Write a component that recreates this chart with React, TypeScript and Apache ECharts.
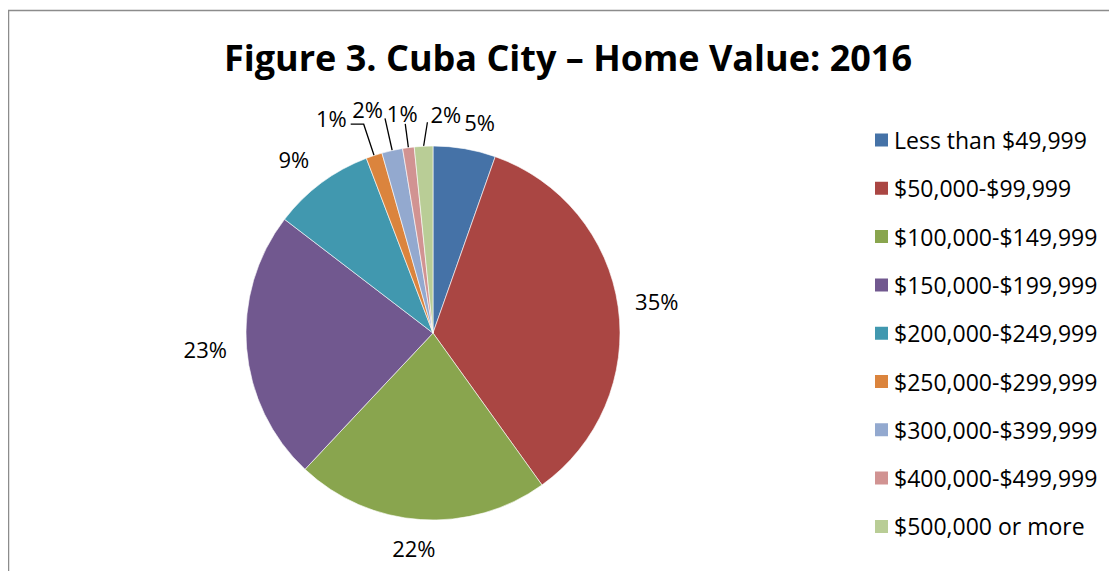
import React, { useEffect, useRef } from "react";
import * as echarts from "echarts";

const categories = [
  "Less than $49,999",
  "$50,000-$99,999",
  "$100,000-$149,999",
  "$150,000-$199,999",
  "$200,000-$249,999",
  "$250,000-$299,999",
  "$300,000-$399,999",
  "$400,000-$499,999",
  "$500,000 or more",
];
const shares = [5.4, 34.7, 21.9, 23.4, 8.8, 1.4, 1.8, 1.0, 1.6];
const colors = [
  "#4572A7",
  "#AA4643",
  "#89A54E",
  "#71588F",
  "#4198AF",
  "#DB843D",
  "#93A9CF",
  "#D19392",
  "#B9CD96",
];
const titleText = "Figure 3. Cuba City \u2013 Home Value: 2016";

// layout (styles, not data)
const FONT = "Open Sans";
const CX = 425;
const CY = 325;
const R = 187;
const GAP = 16;
// small nudges for the outside-end labels of the large slices
const bigLabelNudge: Record<number, number[]> = {
  0: [10, 2],
  2: [-5, 0],
  3: [-3, -2],
  4: [-7, 3],
};
// small-slice leader lines: radial length, extra x-shift of line end, elbow, label anchor
const smallLabelStyle: Record<number, any> = {
  5: { len: 33, shift: 0, elbow: -13, align: "right", vAlign: "middle", ldx: -4, ldy: -6 },
  6: { len: 33, shift: 0, elbow: 0, align: "right", vAlign: "bottom", ldx: -2, ldy: 2 },
  7: { len: 24, shift: 0, elbow: 0, align: "center", vAlign: "bottom", ldx: -3, ldy: 0 },
  8: { len: 24, shift: 5, elbow: 0, align: "left", vAlign: "bottom", ldx: 3, ldy: 3 },
};

export default function App() {
  const ref = useRef<HTMLDivElement>(null);
  useEffect(() => {
    if (!ref.current) return;
    const chart = echarts.init(ref.current, undefined, { renderer: "svg" });
    const total = shares.reduce((a, b) => a + b, 0);
    let acc = 0;
    const mids = shares.map((v) => {
      const m = ((acc + v / 2) / total) * Math.PI * 2;
      acc += v;
      return m;
    });
    const data = categories.map((name, i) => {
      const small = !!smallLabelStyle[i];
      return {
        name,
        value: shares[i],
        itemStyle: { color: colors[i] },
        labelLine: small
          ? { show: true, lineStyle: { color: "#000", width: 1.3 } }
          : { show: false },
      };
    });
    chart.setOption({
      animation: false,
      title: {
        text: titleText,
        left: 560,
        top: 31,
        padding: 0,
        textAlign: "center",
        textStyle: { fontFamily: FONT, fontWeight: "bold", fontSize: 36, color: "#000" },
      },
      legend: {
        orient: "vertical",
        left: 865,
        top: 120.5,
        padding: 0,
        itemWidth: 15,
        itemHeight: 15,
        itemGap: 25.3,
        icon: "rect",
        textStyle: { fontFamily: FONT, fontSize: 23, lineHeight: 23, color: "#000" },
        data: categories,
      },
      graphic: [
        {
          type: "rect",
          shape: { x: 0.5, y: 2.5, width: 1300, height: 800 },
          style: { fill: "none", stroke: "#8c8c8c", lineWidth: 1.5 },
          silent: true,
        },
      ],
      series: [
        {
          type: "pie",
          center: [CX, CY],
          radius: R,
          startAngle: 90,
          clockwise: true,
          avoidLabelOverlap: false,
          data,
          itemStyle: { borderColor: "#fff", borderWidth: 0.6 },
          label: {
            show: true,
            position: "outside",
            fontFamily: FONT,
            fontSize: 22,
            color: "#000",
            formatter: (p: any) => Math.round(p.percent) + "%",
          },
          labelLine: { show: true, length: 10, length2: 5 },
          labelLayout: (params: any) => {
            const i = params.dataIndex;
            const m = mids[i];
            const dx = Math.sin(m);
            const dy = -Math.cos(m);
            const p0x = CX + R * dx;
            const p0y = CY + R * dy;
            const w = params.labelRect.width;
            const h = params.labelRect.height;
            const s = smallLabelStyle[i];
            if (!s) {
              const d = GAP + (Math.abs(dx) * w) / 2 + (Math.abs(dy) * h) / 2;
              const n = bigLabelNudge[i] || [0, 0];
              return {
                x: p0x + dx * d + n[0],
                y: p0y + dy * d + n[1],
                align: "center",
                verticalAlign: "middle",
              };
            }
            const p1x = p0x + dx * s.len + s.shift;
            const p1y = p0y + dy * s.len;
            const p2x = p1x + s.elbow;
            const p2y = p1y;
            return {
              x: p2x + s.ldx,
              y: p2y + s.ldy,
              align: s.align,
              verticalAlign: s.vAlign,
              labelLinePoints: [
                [p0x, p0y],
                [p1x, p1y],
                [p2x, p2y],
              ],
            };
          },
        },
      ],
    });
    return () => chart.dispose();
  }, []);
  return <div ref={ref} style={{ width: 1109, height: 563 }} />;
}
